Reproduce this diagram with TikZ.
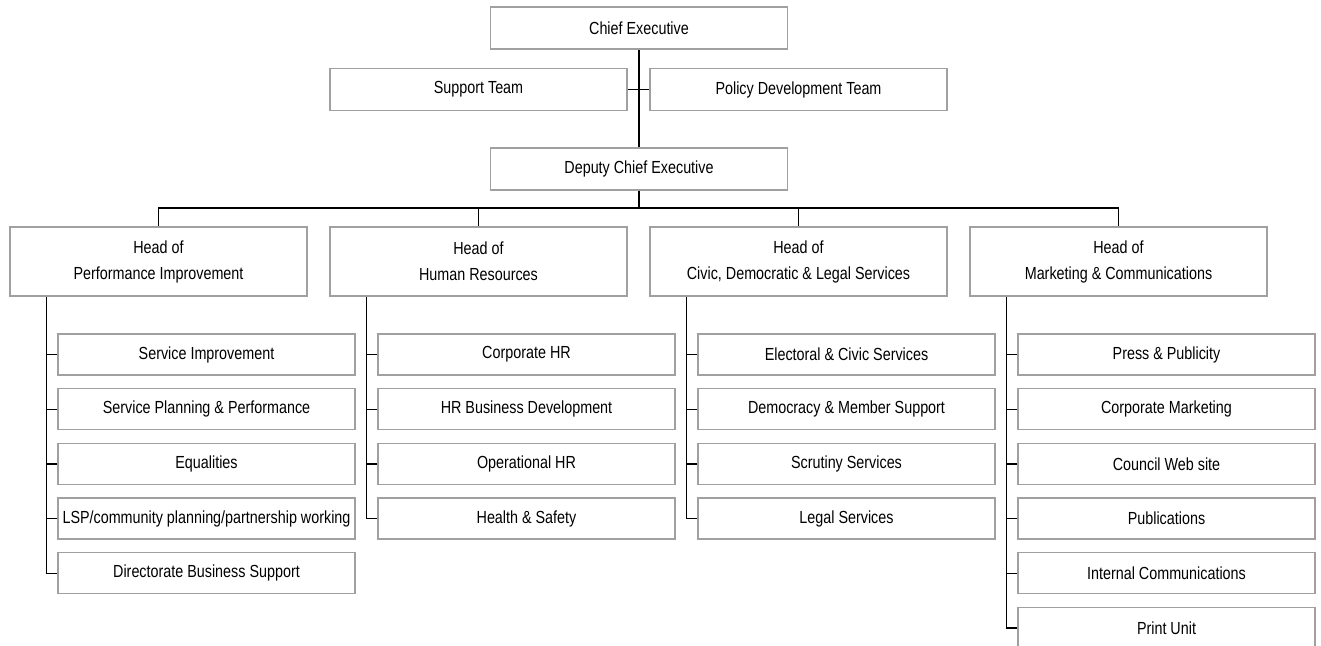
\documentclass[tikz,border=0pt]{standalone}
\usepackage{fontspec}
\usepackage{xcolor}
\usepackage{tikz}
\usetikzlibrary{calc, positioning}

\newfontfamily\orgfont[FakeStretch=0.82]{Liberation Sans}
\definecolor{boxgrey}{HTML}{A0A0A0}

\tikzset{
    unit/.style={draw=boxgrey, line width=1.3pt, fill=white, minimum width=297pt,
        minimum height=42pt, inner sep=0pt, align=center,
        font=\orgfont\fontsize{17.5}{26}\selectfont},
    headbox/.style={unit, minimum height=69pt},
    subbox/.style={unit, minimum height=41pt},
    link/.style={line width=1.3pt, black}
}

\begin{document}
\begin{tikzpicture}[x=1pt, y=-1pt]

    \useasboundingbox (0,0) rectangle (1321,645);

    % =================================================================
    % 1. TOP OF THE CHART
    % =================================================================
    \node[unit] (ce)  at (639,28)    {Chief Executive};
    \node[unit] (st)  at (478.5,89.5) {Support Team};
    \node[unit] (pdt) at (798.5,89.5) {Policy Development Team};
    \node[unit] (dce) at (639,169)   {Deputy Chief Executive};

    \draw[link] (ce.south) -- (dce.north);
    \draw[link] (st.east) -- (pdt.west);

    % =================================================================
    % 2. HEADS OF SERVICE
    % =================================================================
    \node[headbox] (hpi) at (158.5,261.5)  {Head of\\Performance Improvement};
    \node[headbox] (hhr) at (478.5,261.5)  {Head of\\Human Resources};
    \node[headbox] (hcd) at (798.5,261.5)  {Head of\\Civic, Democratic \& Legal Services};
    \node[headbox] (hmc) at (1118.5,261.5) {Head of\\Marketing \& Communications};

    % bus under the deputy
    \coordinate (bus) at (639,208);
    \draw[link] (dce.south) -- (bus);
    \draw[link] (hpi.north) |- (bus) -| (hmc.north);
    \draw[link] (hhr.north) -- (hhr.north |- bus);
    \draw[link] (hcd.north) -- (hcd.north |- bus);

    % =================================================================
    % 3. PERFORMANCE IMPROVEMENT
    % =================================================================
    \node[subbox] (pi1) at (206.5,354.5) {Service Improvement};
    \node[subbox] (pi2) at (206.5,409.2) {Service Planning \& Performance};
    \node[subbox] (pi3) at (206.5,463.9) {Equalities};
    \node[subbox] (pi4) at (206.5,518.6) {LSP/community planning/partnership working};
    \node[subbox] (pi5) at (206.5,573.3) {Directorate Business Support};

    \coordinate (pitrunk) at ([xshift=37pt]hpi.south west);
    \draw[link] (pitrunk) |- (pi5.west);
    \draw[link] (pi1.west) -- (pi1.west -| pitrunk);
    \draw[link] (pi2.west) -- (pi2.west -| pitrunk);
    \draw[link] (pi3.west) -- (pi3.west -| pitrunk);
    \draw[link] (pi4.west) -- (pi4.west -| pitrunk);

    % =================================================================
    % 4. HUMAN RESOURCES
    % =================================================================
    \node[subbox] (hr1) at (526.5,354.5) {Corporate HR};
    \node[subbox] (hr2) at (526.5,409.2) {HR Business Development};
    \node[subbox] (hr3) at (526.5,463.9) {Operational HR};
    \node[subbox] (hr4) at (526.5,518.6) {Health \& Safety};

    \coordinate (hrtrunk) at ([xshift=37pt]hhr.south west);
    \draw[link] (hrtrunk) |- (hr4.west);
    \draw[link] (hr1.west) -- (hr1.west -| hrtrunk);
    \draw[link] (hr2.west) -- (hr2.west -| hrtrunk);
    \draw[link] (hr3.west) -- (hr3.west -| hrtrunk);

    % =================================================================
    % 5. CIVIC, DEMOCRATIC & LEGAL SERVICES
    % =================================================================
    \node[subbox] (cd1) at (846.5,354.5) {Electoral \& Civic Services};
    \node[subbox] (cd2) at (846.5,409.2) {Democracy \& Member Support};
    \node[subbox] (cd3) at (846.5,463.9) {Scrutiny Services};
    \node[subbox] (cd4) at (846.5,518.6) {Legal Services};

    \coordinate (cdtrunk) at ([xshift=37pt]hcd.south west);
    \draw[link] (cdtrunk) |- (cd4.west);
    \draw[link] (cd1.west) -- (cd1.west -| cdtrunk);
    \draw[link] (cd2.west) -- (cd2.west -| cdtrunk);
    \draw[link] (cd3.west) -- (cd3.west -| cdtrunk);

    % =================================================================
    % 6. MARKETING & COMMUNICATIONS
    % =================================================================
    \node[subbox] (mc1) at (1166.5,354.5) {Press \& Publicity};
    \node[subbox] (mc2) at (1166.5,409.2) {Corporate Marketing};
    \node[subbox] (mc3) at (1166.5,463.9) {Council Web site};
    \node[subbox] (mc4) at (1166.5,518.6) {Publications};
    \node[subbox] (mc5) at (1166.5,573.3) {Internal Communications};
    \node[subbox] (mc6) at (1166.5,628.0) {Print Unit};

    \coordinate (mctrunk) at ([xshift=37pt]hmc.south west);
    \draw[link] (mctrunk) |- (mc6.west);
    \draw[link] (mc1.west) -- (mc1.west -| mctrunk);
    \draw[link] (mc2.west) -- (mc2.west -| mctrunk);
    \draw[link] (mc3.west) -- (mc3.west -| mctrunk);
    \draw[link] (mc4.west) -- (mc4.west -| mctrunk);
    \draw[link] (mc5.west) -- (mc5.west -| mctrunk);

\end{tikzpicture}
\end{document}
